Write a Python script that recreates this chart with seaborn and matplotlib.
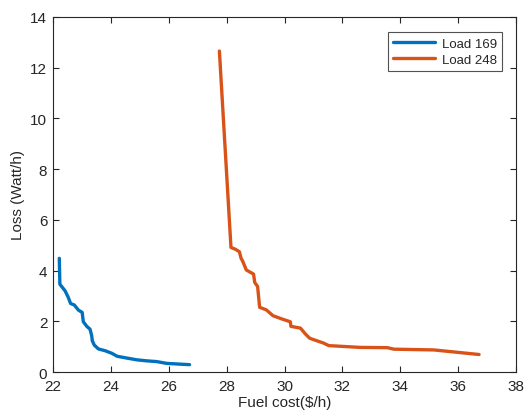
import matplotlib
matplotlib.use("Agg")
import matplotlib.pyplot as plt
import seaborn as sns
import pandas as pd

# Load 169 Pareto front
cost_169 = [22.22, 22.24, 22.42, 22.53, 22.61, 22.74, 22.88, 23.01, 23.05, 23.17, 23.28,
            23.34, 23.36, 23.43, 23.57, 23.80, 24.03, 24.22, 24.55, 24.90, 25.24, 25.59,
            25.93, 26.39, 26.72]
loss_169 = [4.48, 3.46, 3.20, 2.94, 2.70, 2.64, 2.44, 2.35, 1.98, 1.80, 1.69,
            1.43, 1.23, 1.06, 0.91, 0.84, 0.74, 0.62, 0.55, 0.48, 0.44, 0.41,
            0.34, 0.31, 0.29]

# Load 248 Pareto front
cost_248 = [27.75, 28.15, 28.30, 28.44, 28.50, 28.55, 28.68, 28.93, 28.97, 29.07, 29.14,
            29.37, 29.60, 29.91, 30.20, 30.22, 30.55, 30.72, 30.87, 31.12, 31.35, 31.53,
            32.62, 33.55, 33.78, 35.16, 36.72]
loss_248 = [12.65, 4.91, 4.84, 4.74, 4.48, 4.38, 4.02, 3.86, 3.53, 3.37, 2.55,
            2.45, 2.22, 2.09, 1.98, 1.80, 1.73, 1.50, 1.33, 1.23, 1.14, 1.04,
            0.97, 0.96, 0.90, 0.87, 0.69]

df = pd.concat([
    pd.DataFrame({"cost": cost_169, "loss": loss_169, "series": "Load 169"}),
    pd.DataFrame({"cost": cost_248, "loss": loss_248, "series": "Load 248"}),
])

sns.set_style("white")
plt.rcParams["font.family"] = ["Liberation Sans", "DejaVu Sans"]
plt.rcParams["font.size"] = 10

fig = plt.figure(figsize=(5.24, 4.14), dpi=100)
ax = fig.add_axes([0.101, 0.099, 0.884, 0.858])

sns.lineplot(data=df, x="cost", y="loss", hue="series", sort=False, estimator=None,
             units="series", palette=["#0072BD", "#D95319"], linewidth=2.4, ax=ax)

ax.set_xlim(22, 38)
ax.set_ylim(0, 14)
ax.set_xticks(range(22, 39, 2))
ax.set_yticks(range(0, 15, 2))
ax.set_xlabel("Fuel cost($/h)", fontsize=11, color="#262626", labelpad=1.5)
ax.set_ylabel("Loss (Watt/h)", fontsize=11, color="#262626", labelpad=4)
ax.tick_params(direction="in", length=4, width=0.8, colors="#262626", labelsize=11,
               top=True, right=True, bottom=True, left=True, pad=4)
ax.tick_params(axis="x", pad=5)
for s in ax.spines.values():
    s.set_color("#262626")
    s.set_linewidth(0.8)

leg = ax.legend(loc="upper right", bbox_to_anchor=(0.984, 0.975), frameon=True, fancybox=False,
                fontsize=9.5, handlelength=3.2, borderpad=0.4, labelspacing=0.3, handletextpad=0.5)
leg.get_frame().set_edgecolor("#262626")
leg.get_frame().set_linewidth(0.8)
leg.set_title(None)

fig.savefig("out.png", dpi=100)
